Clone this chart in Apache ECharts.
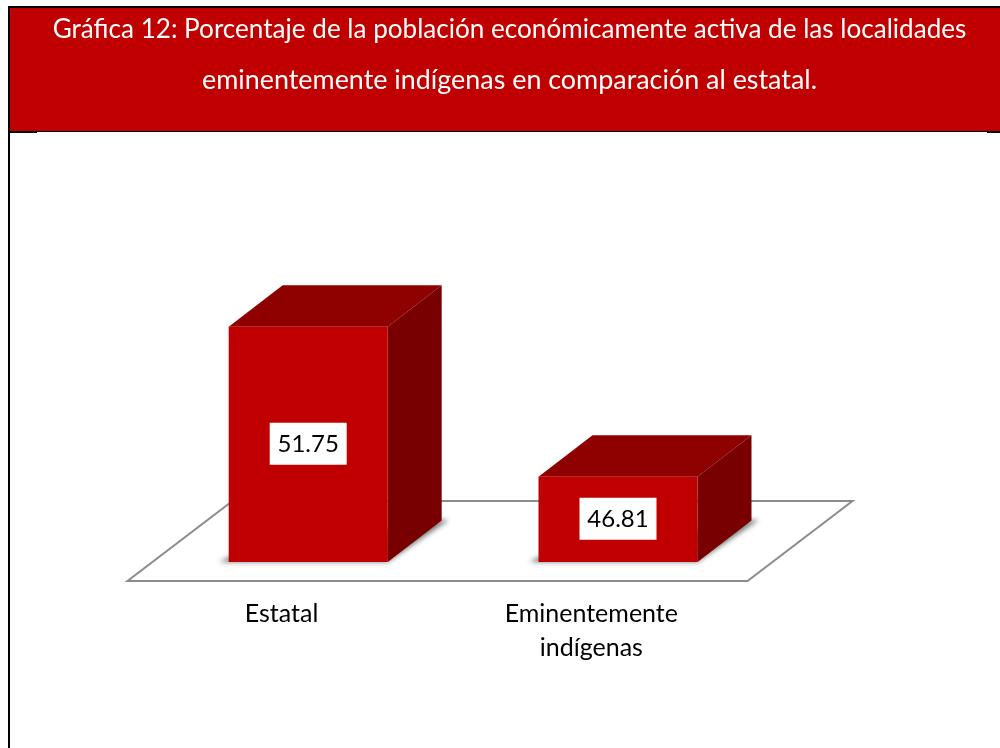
<!DOCTYPE html>
<html>
<head>
<meta charset="utf-8">
<style>html,body{margin:0;padding:0;background:#fff}#c{width:1000px;height:748px}</style>
<script src="https://cdn.jsdelivr.net/npm/echarts@6/dist/echarts.min.js"></script>
</head>
<body>
<div id="c"></div>
<script>
var titleLine1 = 'Gráfica 12: Porcentaje de la población económicamente activa de las localidades';
var titleLine2 = 'eminentemente indígenas en comparación al estatal.';
var categories = ['Estatal', 'Eminentemente\nindígenas'];
var values = [51.75, 46.81];

var chart = echarts.init(document.getElementById('c'), null, {renderer: 'canvas'});

function renderBar(params, api) {
  var cat = api.value(0), val = api.value(1);
  var top = api.coord([cat, val]);
  var base = api.coord([cat, 44]);
  var band = api.size([1, 0])[0];
  var w = band * 159 / 309.8;
  var cx = top[0] + 26.7;
  var x0 = cx - w / 2, x1 = cx + w / 2;
  var yt = top[1], yb = base[1];
  var dx = 54, dy = 41.5;
  var far = 3000;
  return {
    type: 'group',
    children: [
      {type: 'polygon', shape: {points: [[x0 - 9 - far, yb], [x1 - far, yb], [x1 + dx + 7 - far, yb - dy - 0.5], [x1 + dx - far, yb - dy - 0.5], [x0 - far, yb - 5]]},
       style: {fill: '#000', shadowBlur: 5, shadowColor: 'rgba(90,90,90,0.8)', shadowOffsetX: far, shadowOffsetY: 0}},
      {type: 'polygon', shape: {points: [[x0, yt], [x1, yt], [x1 + dx, yt - dy], [x0 + dx, yt - dy]]}, style: {fill: '#8F0000'}},
      {type: 'polygon', shape: {points: [[x1, yt], [x1 + dx, yt - dy], [x1 + dx, yb - dy], [x1, yb]]}, style: {fill: '#780000'}},
      {type: 'rect', shape: {x: x0, y: yt, width: w, height: yb - yt}, style: {fill: '#C00000'}},
      {type: 'rect', shape: {x: cx - 38.5, y: (yt + yb) / 2 - 21.5, width: 77, height: 42}, style: {fill: '#fff'}},
      {type: 'text', x: cx, y: (yt + yb) / 2 - 0.5,
       style: {text: api.value(1).toFixed(2), fill: '#000', font: '24px Lato', align: 'center', verticalAlign: 'middle'}}
    ]
  };
}

chart.setOption({
  animation: false,
  backgroundColor: '#fff',
  title: [
    {text: titleLine1, left: 509.5, top: 11, textAlign: 'center', padding: 0,
     textStyle: {color: '#fff', fontFamily: 'Lato', fontSize: 26.1, fontWeight: 'normal', lineHeight: 38}},
    {text: titleLine2, left: 509.5, top: 61, textAlign: 'center', padding: 0,
     textStyle: {color: '#fff', fontFamily: 'Lato', fontSize: 26.9, fontWeight: 'normal', lineHeight: 38}}
  ],
  graphic: [
    {type: 'rect', z: 0, shape: {x: 8, y: 6, width: 992, height: 2}, style: {fill: '#000'}},
    {type: 'rect', z: 0, shape: {x: 8, y: 6, width: 2, height: 742}, style: {fill: '#000'}},
    {type: 'rect', z: 0, shape: {x: 10, y: 8, width: 990, height: 123}, style: {fill: '#C00000'}},
    {type: 'rect', z: 0, shape: {x: 10, y: 131, width: 990, height: 1}, style: {fill: '#000'}},
    {type: 'rect', z: 0, shape: {x: 10, y: 131, width: 27, height: 2}, style: {fill: '#000'}},
    {type: 'rect', z: 0, shape: {x: 987, y: 131, width: 13, height: 2}, style: {fill: '#000'}},
    {type: 'polygon', z: 0, shape: {points: [[127.5, 581], [747.5, 581], [852.5, 501], [232.5, 501]]},
     style: {fill: '#fff', stroke: '#8C8C8C', lineWidth: 2}}
  ],
  grid: {left: 126.6, width: 619.6, top: 197.7, height: 364.3},
  xAxis: {
    type: 'category', data: categories,
    axisLine: {show: false}, axisTick: {show: false},
    axisLabel: {color: '#000', fontFamily: 'Lato', fontSize: 25, lineHeight: 34, margin: 35, interval: 0}
  },
  yAxis: {type: 'value', min: 44, max: 56, show: false, splitLine: {show: false}},
  series: [{
    type: 'custom',
    data: values.map(function (v, i) { return [i, v]; }),
    encode: {x: 0, y: 1},
    renderItem: renderBar,
    clip: false
  }]
});
</script>
</body>
</html>
